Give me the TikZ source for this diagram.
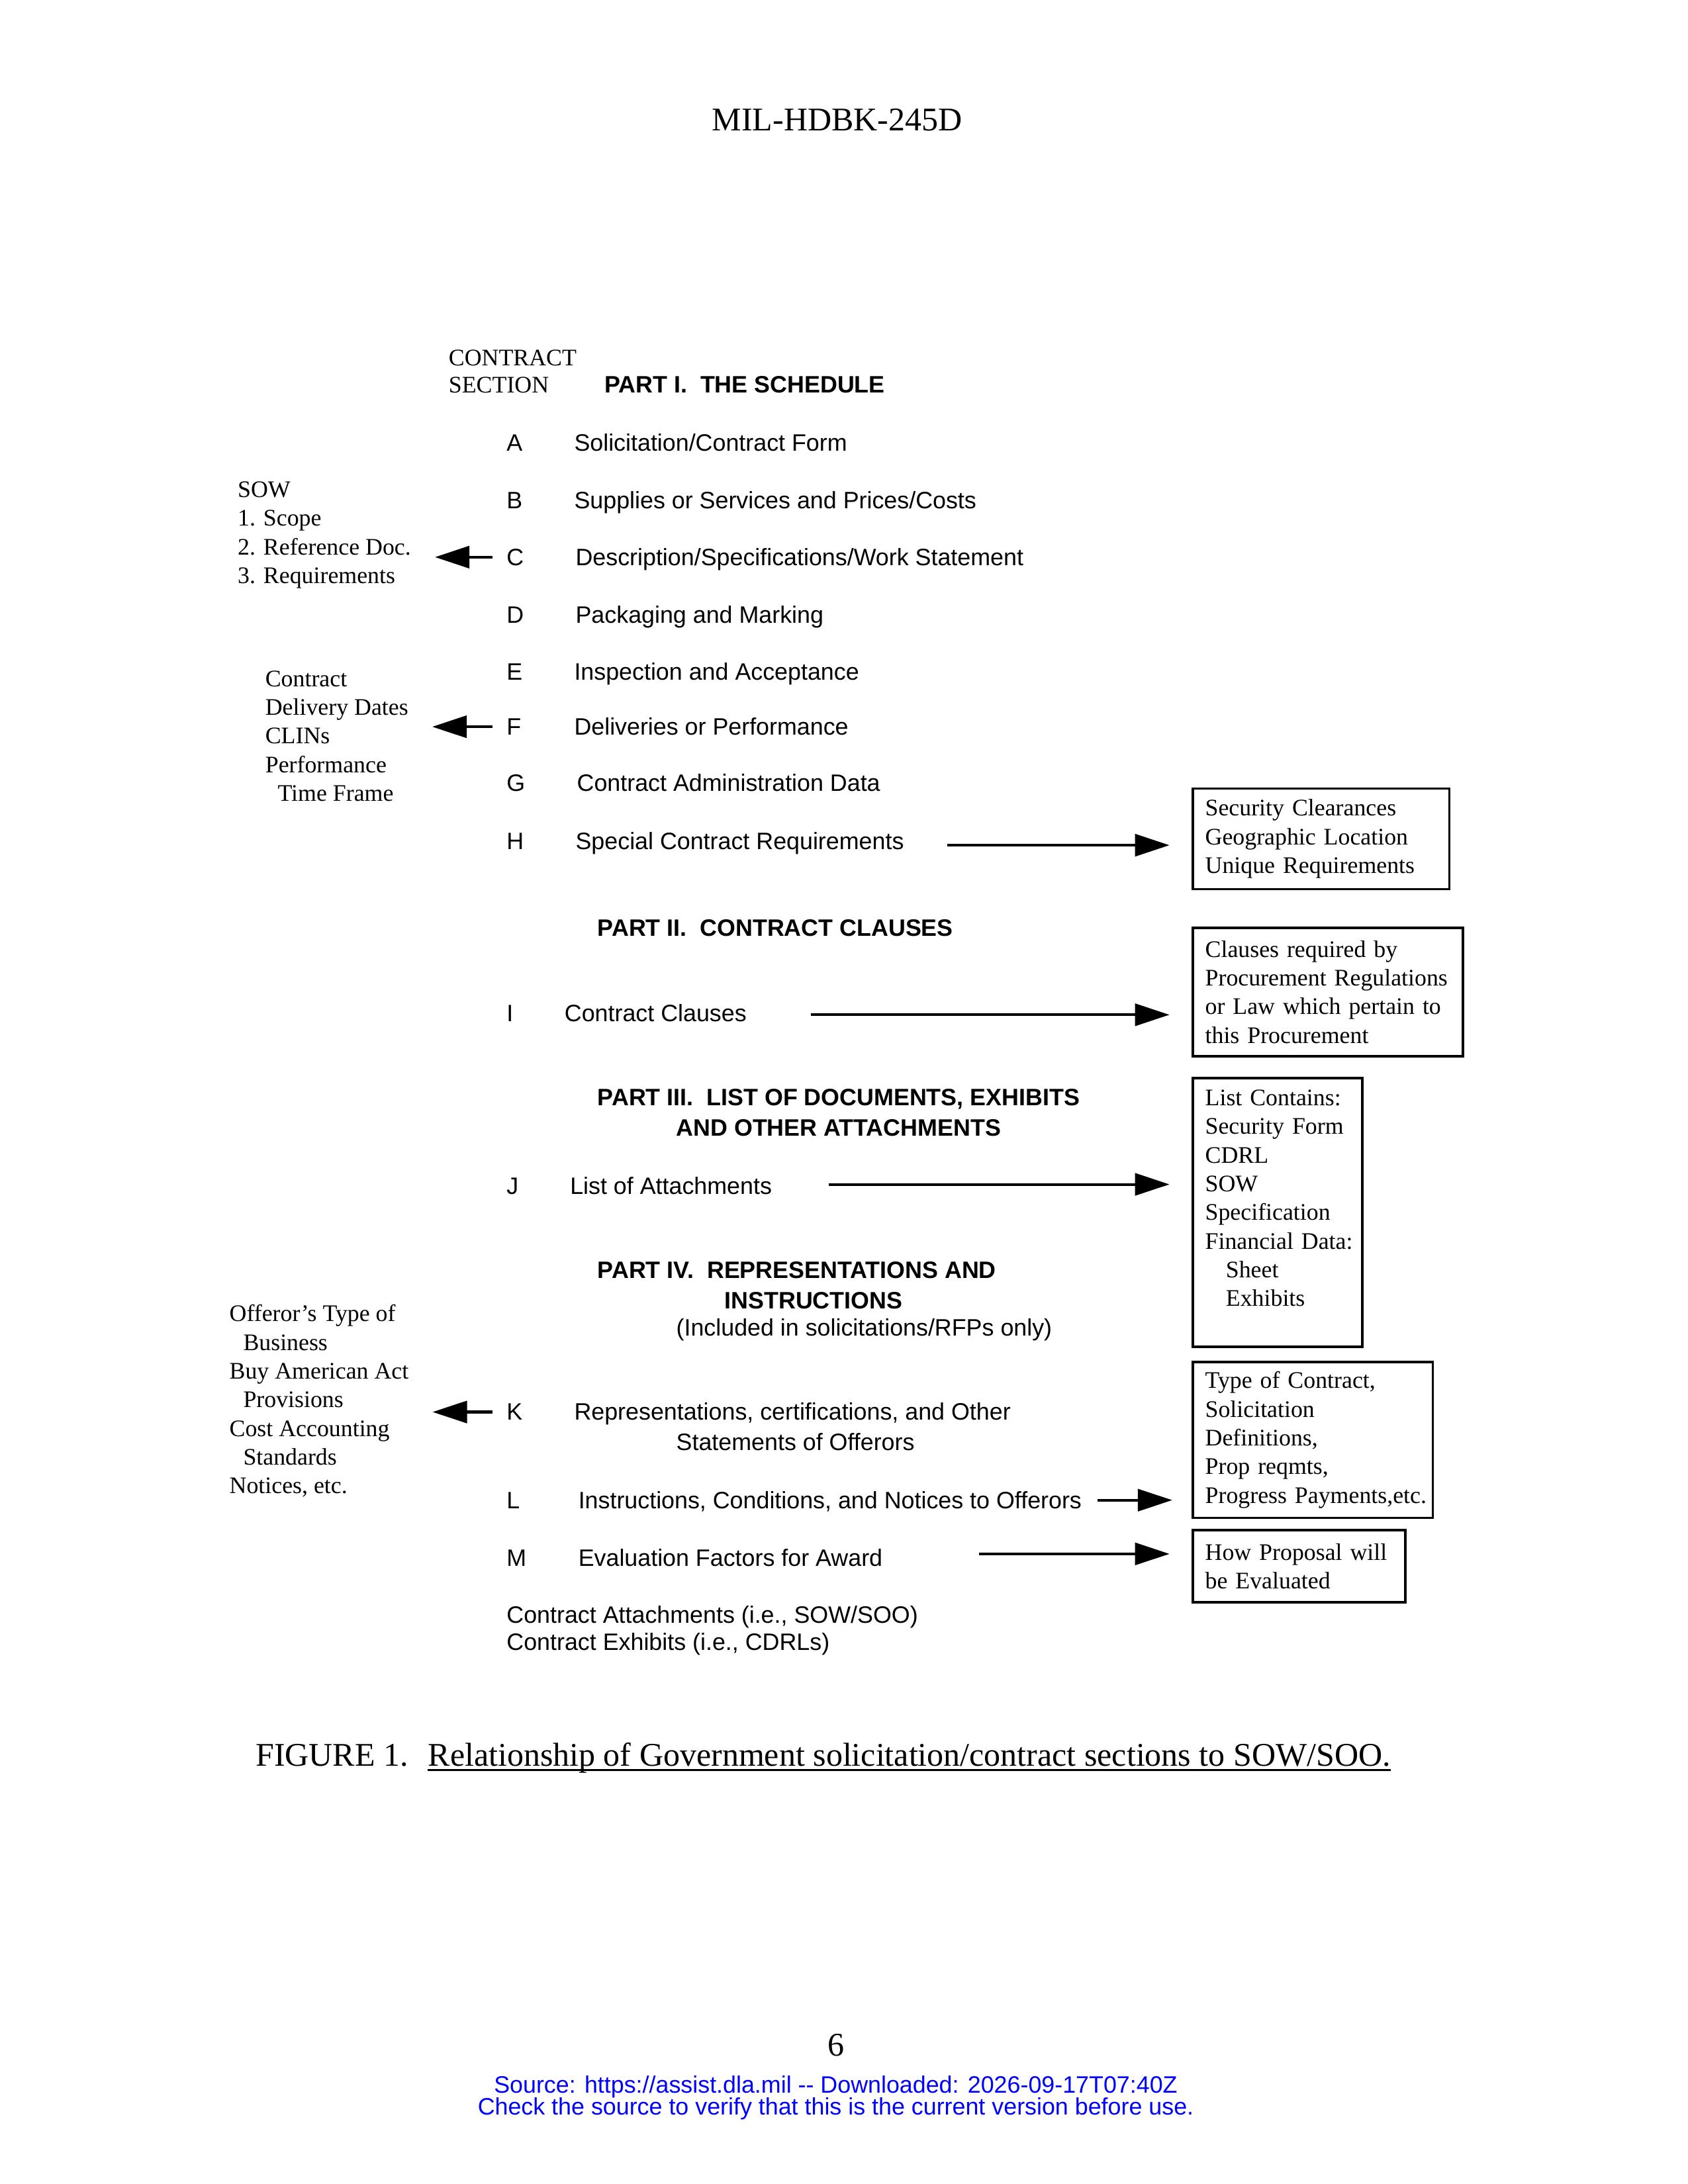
\documentclass[tikz,border=0pt]{standalone}
\usepackage{fontspec}
\setmainfont{Liberation Serif}
\setsansfont{Liberation Sans}
\usetikzlibrary{arrows.meta}
\hyphenpenalty=10000
\exhyphenpenalty=10000

\begin{document}
\begin{tikzpicture}[x=0.5pt,y=-0.5pt,>={Triangle[length=12.5pt,width=8pt]},
  every node/.style={inner sep=0pt,anchor=base west},
  sec/.style={font=\sffamily\fontsize{8.6}{10.4}\selectfont},
  part/.style={font=\sffamily\bfseries\fontsize{8.6}{10.4}\selectfont},
  side/.style={font=\fontsize{8.6}{10.4}\selectfont,align=left,anchor=north west},
  info/.style={draw,line width=0.9pt,anchor=north west,inner xsep=4.5pt,inner ysep=0pt,
    align=left,font=\fontsize{8.6}{10.4}\selectfont},
  page/.style={font=\fontsize{12}{14}\selectfont},
  note/.style={font=\sffamily\fontsize{8.6}{8}\selectfont,text=blue,anchor=base},
  link/.style={->,line width=1pt}]
\useasboundingbox (0,0) rectangle (1224,1584);

\node[page,anchor=base] (head) at (607,95) {MIL-HDBK-245D};

% column heading
\node[font=\fontsize{8.6}{10.4}\selectfont] (colA) at (325,265) {CONTRACT};
\node[font=\fontsize{8.6}{10.4}\selectfont] (colB) at (325,285) {SECTION};

% part I
\node[part] (partI) at (438,285) {PART I.\ \ THE SCHEDULE};
\node[sec] (secA) at (367,327) {A};  \node[sec] (txtA) at (416,327) {Solicitation/Contract Form};
\node[sec] (secB) at (367,369) {B};  \node[sec] (txtB) at (416,369) {Supplies or Services and Prices/Costs};
\node[sec] (secC) at (367,410) {C};  \node[sec] (txtC) at (417,410) {Description/Specifications/Work Statement};
\node[sec] (secD) at (367,452) {D};  \node[sec] (txtD) at (417,452) {Packaging and Marking};
\node[sec] (secE) at (367,493) {E};  \node[sec] (txtE) at (416,493) {Inspection and Acceptance};
\node[sec] (secF) at (367,533) {F};  \node[sec] (txtF) at (416,533) {Deliveries or Performance};
\node[sec] (secG) at (367,574) {G};  \node[sec] (txtG) at (418,574) {Contract Administration Data};
\node[sec] (secH) at (367,616) {H};  \node[sec] (txtH) at (417,616) {Special Contract Requirements};

% part II
\node[part] (partII) at (433,679) {PART II.\ \ CONTRACT CLAUSES};
\node[sec] (secI) at (367,741) {I};  \node[sec] (txtI) at (409,741) {Contract Clauses};

% part III
\node[part] (partIIIa) at (433,802) {PART III.\ \ LIST OF DOCUMENTS, EXHIBITS};
\node[part] (partIIIb) at (490,824) {AND OTHER ATTACHMENTS};
\node[sec] (secJ) at (367,866) {J};  \node[sec] (txtJ) at (413,866) {List of Attachments};

% part IV
\node[part] (partIVa) at (433,927) {PART IV.\ \ REPRESENTATIONS AND};
\node[part] (partIVb) at (525,949) {INSTRUCTIONS};
\node[sec] (partIVc) at (490,969) {(Included in solicitations/RFPs only)};
\node[sec] (secK) at (367,1030) {K};  \node[sec] (txtK) at (416,1030) {Representations, certifications, and Other};
\node[sec] (txtK2) at (490,1052) {Statements of Offerors};
\node[sec] (secL) at (367,1094) {L};  \node[sec] (txtL) at (419,1094) {Instructions, Conditions, and Notices to Offerors};
\node[sec] (secM) at (367,1136) {M};  \node[sec] (txtM) at (419,1136) {Evaluation Factors for Award};
\node[sec] (attach) at (367,1177) {Contract Attachments (i.e., SOW/SOO)};
\node[sec] (exhib) at (367,1197) {Contract Exhibits (i.e., CDRLs)};

% left side
\node[side] (sow) at (172,349) {SOW\\1. Scope\\2. Reference Doc.\\3. Requirements};
\node[side] (deliv) at (192,486) {Contract\\Delivery Dates\\CLINs\\Performance\\\hspace*{4.5pt}Time Frame};
\node[side] (offer) at (166,946) {Offeror’s Type of\\\hspace*{5pt}Business\\Buy American Act\\\hspace*{5pt}Provisions\\Cost Accounting\\\hspace*{5pt}Standards\\Notices, etc.};

% right side
\node[info,text width=84pt,minimum height=36.5pt] (hbox) at (864,571)
  {Security Clearances\\Geographic Location\\Unique Requirements};
\node[info,text width=89pt,minimum height=46.5pt] (ibox) at (864,672)
  {Clauses required by\\Procurement~Regulations\\or Law which pertain to\\this Procurement};
\node[info,text width=52.5pt,minimum height=97.5pt] (jbox) at (864,781)
  {List~Contains:\\Security~Form\\CDRL\\SOW\\Specification\\Financial~Data:\\\hspace*{7.5pt}Sheet\\\hspace*{7.5pt}Exhibits\\~};
\node[info,text width=78pt,minimum height=56.5pt] (lbox) at (864,987)
  {Type~of~Contract,\\Solicitation\\Definitions,\\Prop reqmts,\\Progress~Payments,etc.};
\node[info,text width=68pt,minimum height=26pt] (mbox) at (864,1109)
  {How Proposal will\\be Evaluated};

\coordinate (hs) at (687,613);
\coordinate (is) at (588,736);
\coordinate (js) at (601,859);
\coordinate (ls) at (796,1088);
\coordinate (ms) at (710,1127);

\draw[link,shorten >=8pt] (hs) -- (hs -| hbox.west);
\draw[link,shorten >=8pt] (is) -- (is -| ibox.west);
\draw[link,shorten >=8pt] (js) -- (js -| jbox.west);
\draw[link,shorten >=7pt] (ls) -- (ls -| lbox.west);
\draw[link,shorten >=8pt] (ms) -- (ms -| mbox.west);

\draw[link,shorten <=5pt,shorten >=8.5pt] (secC.west) -- (secC.west -| sow.east);
\draw[link,shorten <=5pt,shorten >=8.5pt] (secF.west) -- (secF.west -| deliv.east);
\draw[link,shorten <=5pt,shorten >=8.5pt] (secK.west) -- (secK.west -| offer.east);

% caption
\node[page] (figlab) at (185,1281) {FIGURE 1.};
\node[page] (figtitle) at (310,1281) {Relationship of Government solicitation/contract sections to SOW/SOO.};
\draw[line width=0.7pt] ([yshift=-1.4pt]figtitle.base west) -- ([yshift=-1.4pt]figtitle.base east);

\node[page,anchor=base] (pnum) at (606,1491) {6};
\node[note] (srcA) at (606,1518) {Source: https://assist.dla.mil -{}- Downloaded: 2026-09-17T07:40Z};
\node[note] (srcB) at (606,1534) {Check the source to verify that this is the current version before use.};
\end{tikzpicture}
\end{document}
